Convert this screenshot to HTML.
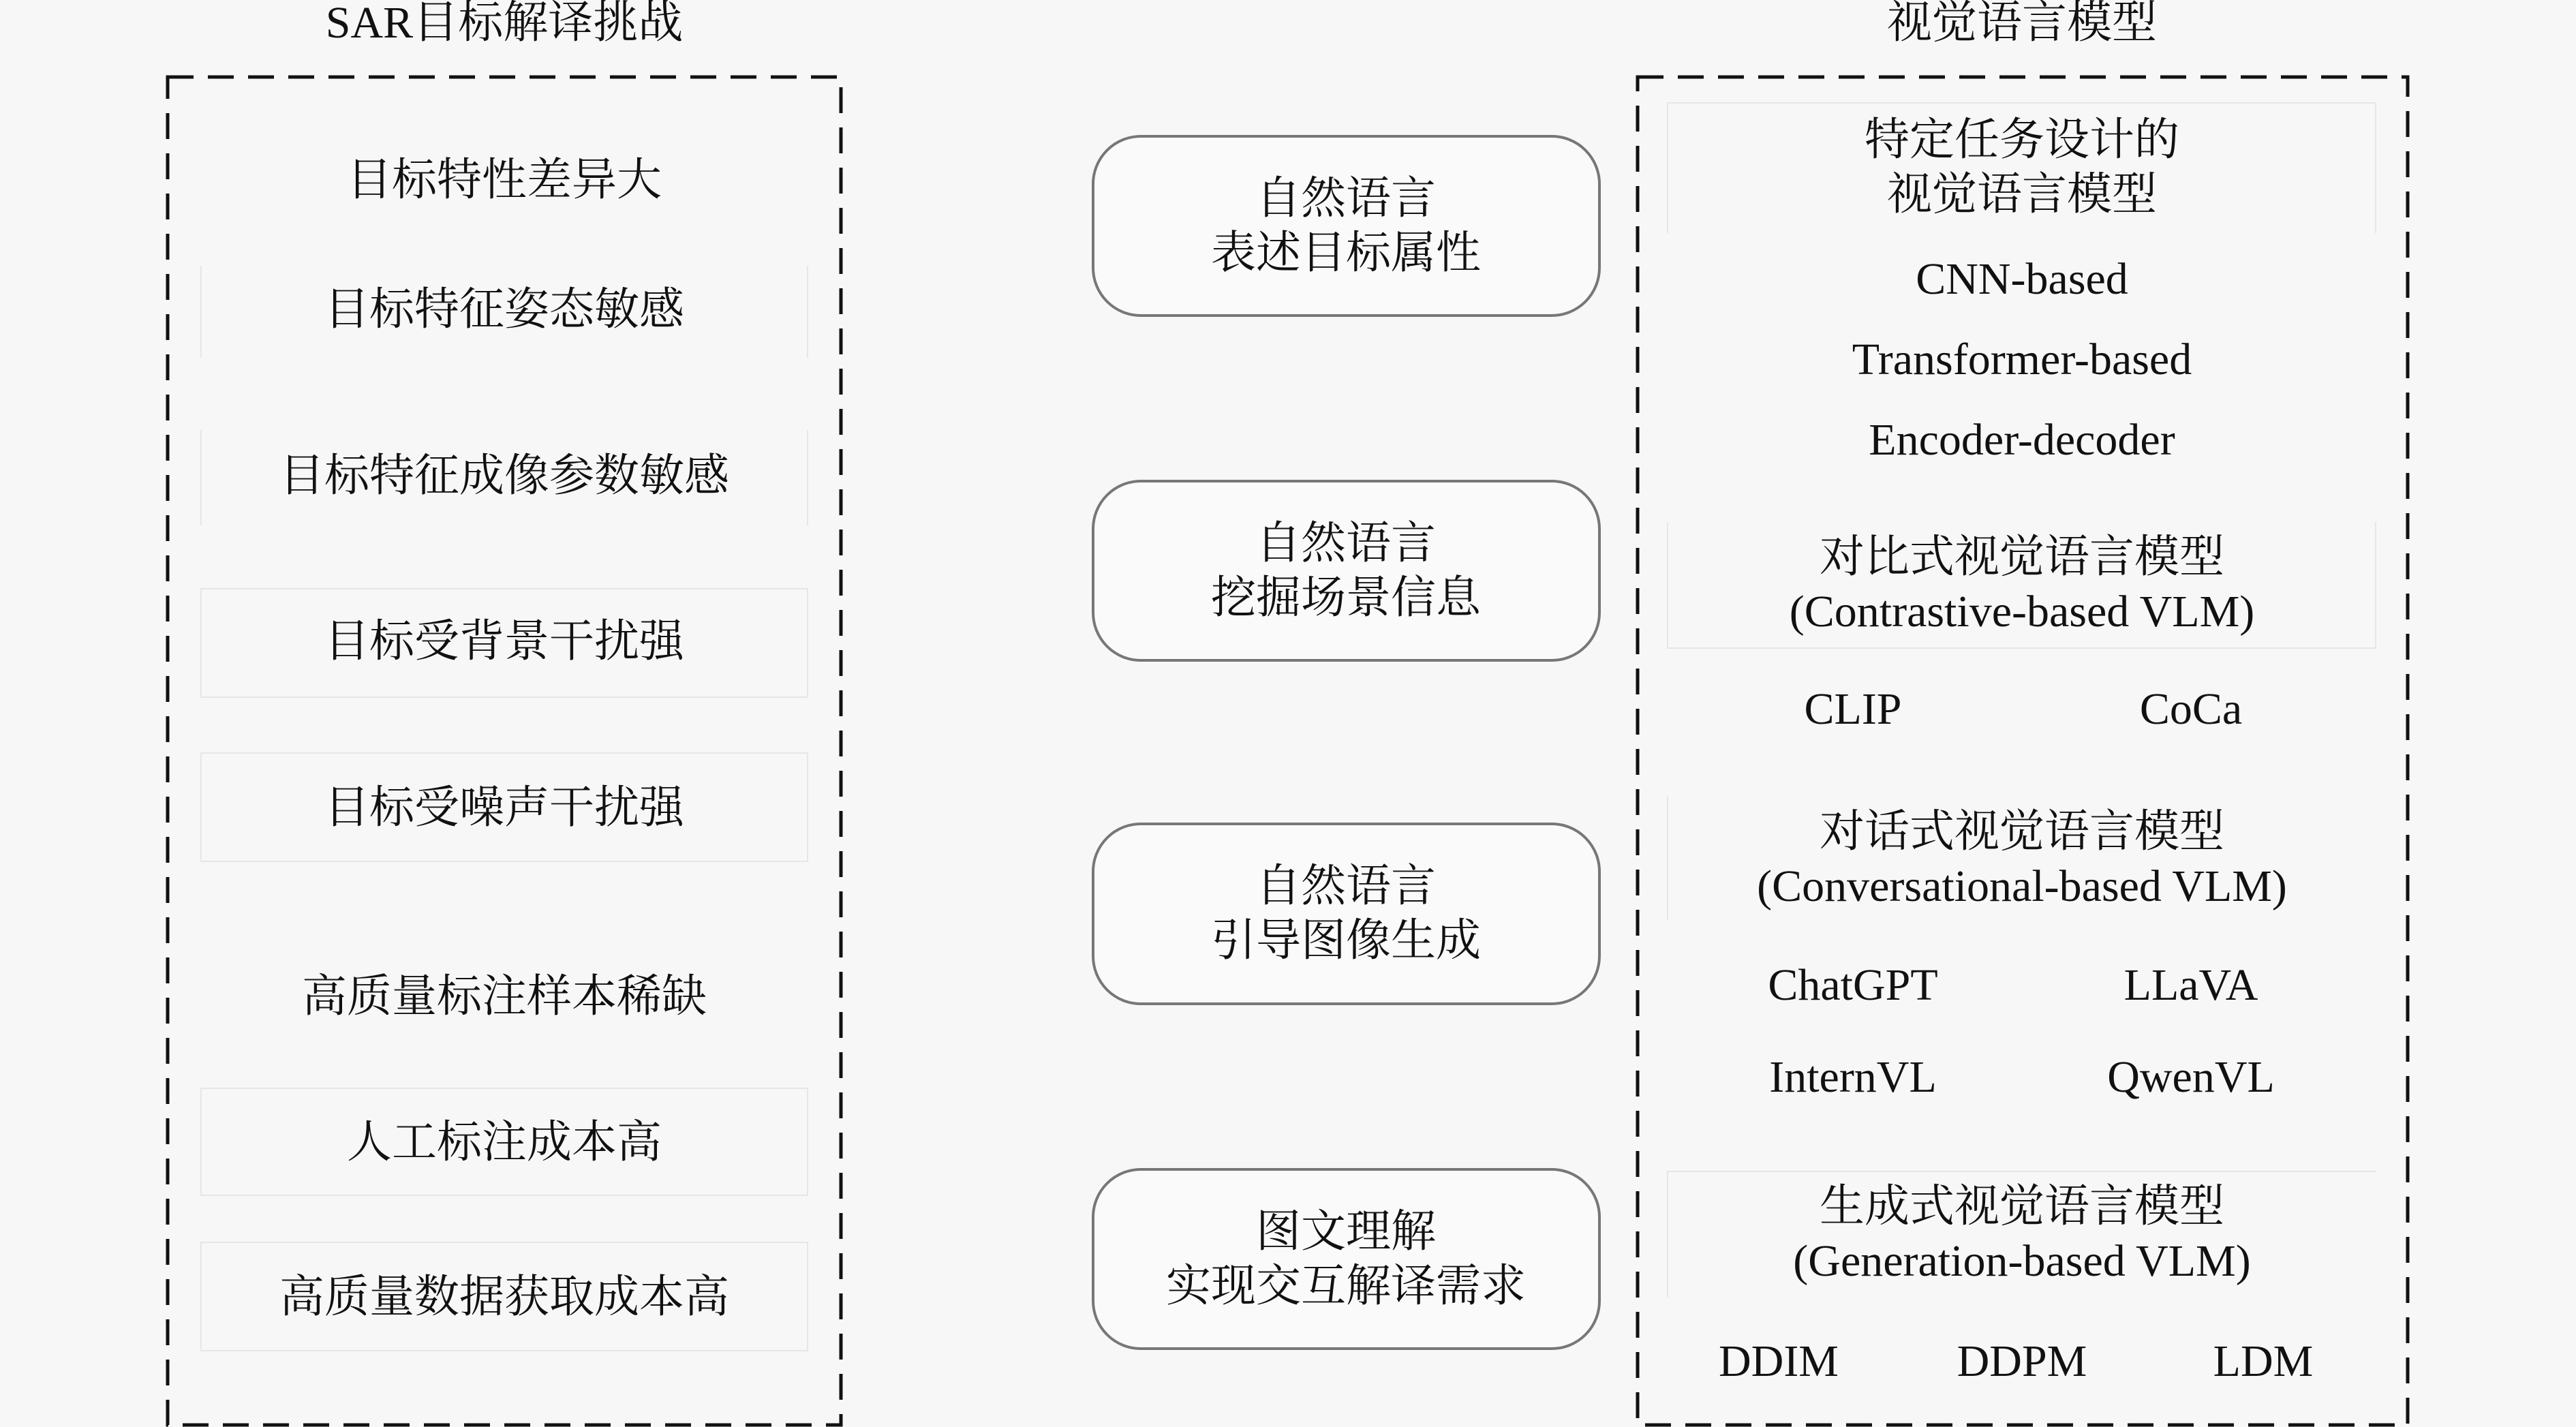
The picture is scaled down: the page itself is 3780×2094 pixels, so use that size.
<!DOCTYPE html>
<html><head><meta charset="utf-8"><style>
html,body{margin:0;padding:0}
body{width:3780px;height:2094px;background:#f7f7f7;position:relative;overflow:hidden;font-family:"Liberation Serif","Noto Serif CJK SC",serif;color:#111}
.t{position:absolute;transform:translate(-50%,-50%);white-space:nowrap;font-size:66px;line-height:80px;text-align:center}
.f{position:absolute;border:2px solid #e6e6e6;box-sizing:border-box}
.r{position:absolute;border:4px solid #777;border-radius:72px;box-sizing:border-box;background:#fafafa}
</style></head><body>
<svg width="3780" height="2094" style="position:absolute;left:0;top:0">
<rect x="246" y="113" width="988" height="1978" fill="none" stroke="#111" stroke-width="5" stroke-dasharray="38 21"/>
<rect x="2403" y="113" width="1130" height="1978" fill="none" stroke="#111" stroke-width="5" stroke-dasharray="38 21"/>
</svg>
<div class="f" style="left:294px;top:390px;width:892px;height:135px;border-top:none;border-bottom:none"></div>
<div class="f" style="left:294px;top:631px;width:892px;height:140px;border-top:none;border-bottom:none"></div>
<div class="f" style="left:294px;top:863px;width:892px;height:161px"></div>
<div class="f" style="left:294px;top:1104px;width:892px;height:161px"></div>
<div class="f" style="left:294px;top:1596px;width:892px;height:159px"></div>
<div class="f" style="left:294px;top:1822px;width:892px;height:161px"></div>
<div class="f" style="left:2446px;top:150px;width:1041px;height:192px;border-bottom:none"></div>
<div class="f" style="left:2446px;top:766px;width:1041px;height:186px;border-top:none"></div>
<div class="f" style="left:2446px;top:1169px;width:1041px;height:180px;border-top:none;border-bottom:none;border-right:none"></div>
<div class="f" style="left:2446px;top:1718px;width:1041px;height:186px;border-bottom:none;border-right:none"></div>

<div class="t" style="left:740px;top:34px">SAR目标解译挑战</div>
<div class="t" style="left:2967px;top:34px">视觉语言模型</div>

<div class="t" style="left:740px;top:265px">目标特性差异大</div>
<div class="t" style="left:740px;top:455px">目标特征姿态敏感</div>
<div class="t" style="left:740px;top:699px">目标特征成像参数敏感</div>
<div class="t" style="left:740px;top:942px">目标受背景干扰强</div>
<div class="t" style="left:740px;top:1186px">目标受噪声干扰强</div>
<div class="t" style="left:740px;top:1463px">高质量标注样本稀缺</div>
<div class="t" style="left:740px;top:1677px">人工标注成本高</div>
<div class="t" style="left:740px;top:1904px">高质量数据获取成本高</div>

<div class="r" style="left:1602px;top:198px;width:747px;height:267px"></div>
<div class="r" style="left:1602px;top:704px;width:747px;height:267px"></div>
<div class="r" style="left:1602px;top:1207px;width:747px;height:268px"></div>
<div class="r" style="left:1602px;top:1714px;width:747px;height:267px"></div>
<div class="t" style="left:1975px;top:332px">自然语言<br>表述目标属性</div>
<div class="t" style="left:1975px;top:838px">自然语言<br>挖掘场景信息</div>
<div class="t" style="left:1975px;top:1341px">自然语言<br>引导图像生成</div>
<div class="t" style="left:1975px;top:1848px">图文理解<br>实现交互解译需求</div>

<div class="t" style="left:2967px;top:246px">特定任务设计的<br>视觉语言模型</div>
<div class="t" style="left:2967px;top:410px">CNN-based</div>
<div class="t" style="left:2967px;top:528px">Transformer-based</div>
<div class="t" style="left:2967px;top:646px">Encoder-decoder</div>
<div class="t" style="left:2967px;top:858px">对比式视觉语言模型<br>(Contrastive-based VLM)</div>
<div class="t" style="left:2719px;top:1041px">CLIP</div>
<div class="t" style="left:3215px;top:1041px">CoCa</div>
<div class="t" style="left:2967px;top:1261px">对话式视觉语言模型<br>(Conversational-based VLM)</div>
<div class="t" style="left:2719px;top:1446px">ChatGPT</div>
<div class="t" style="left:3215px;top:1446px">LLaVA</div>
<div class="t" style="left:2719px;top:1581px">InternVL</div>
<div class="t" style="left:3215px;top:1581px">QwenVL</div>
<div class="t" style="left:2967px;top:1811px">生成式视觉语言模型<br>(Generation-based VLM)</div>
<div class="t" style="left:2610px;top:1998px">DDIM</div>
<div class="t" style="left:2967px;top:1998px">DDPM</div>
<div class="t" style="left:3321px;top:1998px">LDM</div>
</body></html>
